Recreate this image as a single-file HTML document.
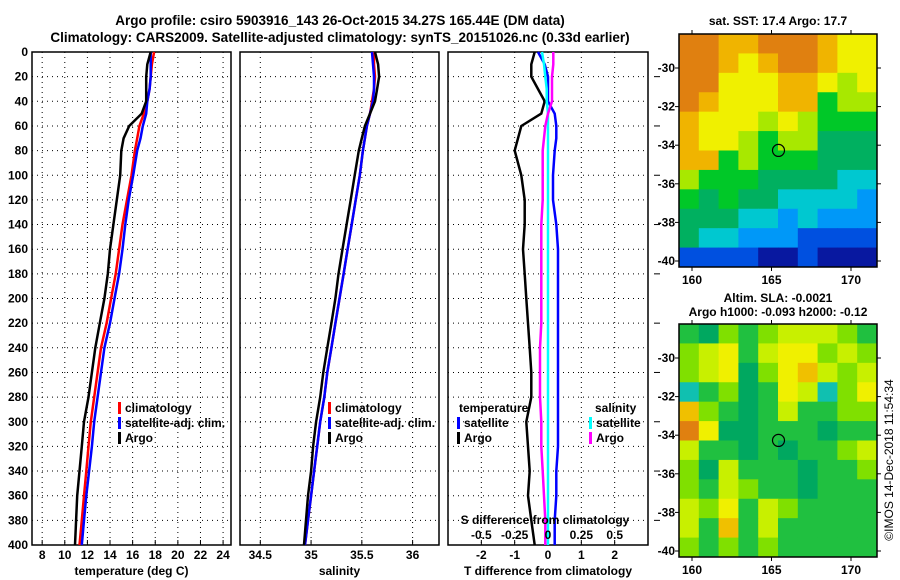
<!DOCTYPE html>
<html><head><meta charset="utf-8">
<style>
body{margin:0;background:#fff;}
svg{display:block;font-family:"Liberation Sans",Arial,sans-serif;font-weight:bold;}
</style></head>
<body>
<svg id="chart" width="900" height="580" viewBox="0 0 900 580">
<text x="340" y="25" text-anchor="middle" font-size="13.5">Argo profile: csiro 5903916_143 26-Oct-2015 34.27S 165.44E (DM data)</text>
<text x="340" y="42" text-anchor="middle" font-size="13.5">Climatology: CARS2009. Satellite-adjusted climatology: synTS_20151026.nc (0.33d earlier)</text>
<g id="g"></g>
<text x="893" y="460" text-anchor="middle" font-size="12" font-weight="normal" transform="rotate(-90 893 460)">©IMOS 14-Dec-2018 11:54:34</text>
</svg>
<script>
// ---- data ----
const depths = [0,10,20,30,40,50,60,70,80,100,120,140,160,180,200,220,240,260,280,300,320,340,360,380,400];
const tempClim = [17.9,17.7,17.6,17.5,17.3,17.0,16.6,16.4,16.2,15.9,15.5,15.1,14.8,14.5,14.1,13.7,13.2,12.9,12.6,12.3,12.1,11.9,11.7,11.5,11.3];
const tempSat  = [17.6,17.6,17.6,17.5,17.3,17.2,16.9,16.7,16.4,16.05,15.65,15.35,15.1,14.8,14.4,14.0,13.5,13.2,12.9,12.6,12.4,12.15,11.9,11.7,11.5];
const tempArgo = [17.6,17.3,17.2,17.2,17.2,16.8,15.7,15.2,15.0,14.9,14.6,14.3,14.0,13.8,13.5,13.1,12.7,12.4,12.1,11.7,11.5,11.3,11.1,11.0,10.9];
const salClim = [35.62,35.62,35.63,35.62,35.60,35.58,35.55,35.53,35.51,35.48,35.44,35.40,35.36,35.32,35.28,35.24,35.20,35.16,35.13,35.09,35.06,35.03,35.00,34.97,34.94];
const salSat  = [35.60,35.61,35.62,35.62,35.61,35.58,35.55,35.53,35.51,35.48,35.44,35.40,35.36,35.32,35.28,35.24,35.20,35.16,35.13,35.09,35.06,35.03,35.00,34.97,34.94];
const salArgo = [35.63,35.66,35.67,35.65,35.63,35.58,35.53,35.50,35.47,35.43,35.39,35.35,35.31,35.27,35.24,35.20,35.16,35.12,35.09,35.05,35.02,35.00,34.97,34.95,34.93];
const dTSat  = [-0.3,-0.1,0.0,0.0,0.0,0.2,0.25,0.25,0.2,0.15,0.15,0.25,0.3,0.3,0.3,0.3,0.3,0.3,0.3,0.3,0.3,0.25,0.25,0.2,0.2];
const dTArgo = [-0.4,-0.5,-0.5,-0.3,-0.1,-0.2,-0.8,-0.9,-1.0,-0.8,-0.7,-0.7,-0.75,-0.7,-0.65,-0.6,-0.55,-0.5,-0.5,-0.65,-0.6,-0.55,-0.6,-0.5,-0.4];
const dSSat  = [-0.045,-0.03,-0.02,-0.01,-0.01,0.0,0.0,0.0,0.0,0.0,0.0,0.0,0.0,0.0,0.0,0.0,0.0,0.0,0.0,0.0,0.0,0.0,0.0,0.0,0.0];
const dSArgo = [0.04,0.04,0.03,0.03,0.03,0.0,-0.02,-0.03,-0.04,-0.04,-0.04,-0.05,-0.05,-0.05,-0.05,-0.05,-0.06,-0.06,-0.06,-0.05,-0.05,-0.04,-0.03,-0.02,-0.02];
const depthTicks = [0,20,40,60,80,100,120,140,160,180,200,220,240,260,280,300,320,340,360,380,400];
const tTicks = [8,10,12,14,16,18,20,22,24];
const sTicks = [34.5,35,35.5,36];
const dTTicks = [-2,-1,0,1,2];
const dSTicks = [-0.5,-0.25,0,0.25,0.5];
const sstLevels = [
[9,9,8,8,9,9,9,8,7,7],[9,9,8,7,8,9,9,8,7,7],[9,9,7,7,7,8,8,7,6,7],[9,8,7,7,7,8,8,5,6,6],
[8,7,7,7,6,7,6,5,5,5],[8,7,7,6,5,6,6,4,4,4],[8,8,5,6,5,5,5,4,4,4],[6,5,5,5,4,4,4,4,3,3],
[5,4,5,4,4,3,3,3,3,2],[4,4,4,3,3,2,3,2,2,2],[4,3,3,2,2,2,1,1,1,1],[1,1,1,1,0,0,1,0,0,0]];
const slaLevels = [
[2,1,3,2,3,4,4,4,3,2],[3,4,5,2,4,5,5,3,4,3],[3,4,5,1,3,5,6,4,3,4],[0,2,3,1,2,5,4,0,3,5],
[6,3,2,1,2,4,2,2,3,3],[7,5,1,1,2,2,2,1,2,2],[4,2,2,1,2,1,2,2,3,4],[3,1,4,2,2,2,1,2,2,3],
[3,2,4,3,2,2,1,2,2,2],[4,3,5,2,4,3,2,2,2,2],[4,2,6,2,4,2,2,2,2,2],[3,2,3,2,3,2,2,2,2,2]];
const lonTicks = [160,165,170];
const latTicks = [-30,-32,-34,-36,-38,-40];
const argoLon = 165.44, argoLat = -34.27;

// ---- drawing ----
const NS="http://www.w3.org/2000/svg";
const G=document.getElementById('g');
function el(tag,attrs,parent){const e=document.createElementNS(NS,tag);for(const k in attrs)e.setAttribute(k,attrs[k]);(parent||G).appendChild(e);return e;}
function txt(x,y,s,anchor,size,parent){const t=el('text',{x:x,y:y,'text-anchor':anchor||'middle','font-size':size||12},parent);t.textContent=s;return t;}
const Y0=52,Y1=545;
const yD=d=>Y0+(d/400)*(Y1-Y0);
function lin(d0,d1,r0,r1){return v=>r0+(v-d0)/(d1-d0)*(r1-r0);}

function panel(name,x0,x1,xs,ticks,fmt,showDepth,xlabel){
  const g=el('g',{});
  
  
  const grid=el('g',{stroke:'#000','stroke-width':1,'stroke-dasharray':'1,4'},g);
  
  
  depthTicks.forEach(d=>{if(d>0&&d<400)el('line',{x1:x0,x2:x1,y1:yD(d),y2:yD(d)},grid);});
  ticks.forEach(v=>{el('line',{x1:xs(v),x2:xs(v),y1:Y0,y2:Y1},grid);});
  const fr=el('rect',{x:x0,y:Y0,width:x1-x0,height:Y1-Y0,fill:'none',stroke:'#000','stroke-width':1.5},g);
  
  
  const tl=el('g',{},g);
  
  
  ticks.forEach(v=>{el('line',{x1:xs(v),x2:xs(v),y1:Y1,y2:Y1-5,stroke:'#000'},g);txt(xs(v),559,fmt(v),'middle',12,tl);});
  if(showDepth){
    const dl=el('g',{},g);
    
    
    depthTicks.forEach(d=>txt(28,yD(d)+4,String(d),'end',12,dl));
  }
  if(xlabel){const t=txt((x0+x1)/2,575,xlabel,'middle',12,g);
    
    }
  return g;
}
function line(vals,xs,color,name,parent){
  let p='';vals.forEach((v,i)=>{p+=(i?'L':'M')+xs(v).toFixed(1)+','+yD(depths[i]).toFixed(1);});
  const l=el('path',{d:p,fill:'none',stroke:color,'stroke-width':2.5},parent);
  
  
}
function legend(x,y,items,parent){
  items.forEach((it,i)=>{
    if(it[1])el('rect',{x:x,y:y+i*15-10,width:3,height:12,fill:it[1]},parent);
    const t=txt(x+7,y+i*15,it[0],'start',12,parent);
    
    
  });
}
// Panel 1 temperature
const xT=lin(7.1,24.7,32,231);
const p1=panel('temperature',32,231,xT,tTicks,v=>String(v),true,'temperature (deg C)');
line(tempClim,xT,'#ff0000','temp-climatology-line',p1);
line(tempSat,xT,'#0000ff','temp-satellite-line',p1);
line(tempArgo,xT,'#000000','temp-argo-line',p1);
legend(118,412,[['climatology','#ff0000'],['satellite-adj. clim.','#0000ff'],['Argo','#000']],p1);
// Panel 2 salinity
const xS=lin(34.3,36.26,240,439);
const p2=panel('salinity',240,439,xS,sTicks,v=>String(v),false,'salinity');
line(salClim,xS,'#ff0000','sal-climatology-line',p2);
line(salSat,xS,'#0000ff','sal-satellite-line',p2);
line(salArgo,xS,'#000000','sal-argo-line',p2);
legend(328,412,[['climatology','#ff0000'],['satellite-adj. clim.','#0000ff'],['Argo','#000']],p2);
// Panel 3 differences
const xD=lin(-3,3,448,648);
const xDS=v=>xD(v*4);
const p3=panel('difference',448,648,xD,dTTicks,v=>String(v),false,'T difference from climatology');
depthTicks.forEach(d=>{if(d%40===20)el('line',{x1:654,x2:660,y1:yD(d),y2:yD(d),stroke:'#000'},p3);});
line(dTSat,xD,'#0000ff','dT-satellite-line',p3);
line(dTArgo,xD,'#000000','dT-argo-line',p3);
line(dSSat,xDS,'#00ffff','dS-satellite-line',p3);
line(dSArgo,xDS,'#ff00ff','dS-argo-line',p3);
legend(457,412,[['',null],['satellite','#0000ff'],['Argo','#000']],p3);
txt(459,412,'temperature','start',12,p3);
legend(589,412,[['',null],['satellite','#00ffff'],['Argo','#ff00ff']],p3);
txt(595,412,'salinity','start',12,p3);
const st=txt(545,524,'S difference from climatology','middle',12,p3);


dSTicks.forEach(v=>{const t=txt(xDS(v),539,String(v),'middle',12,p3);
  
  });

// Maps
const sstPal=['#0818a0','#0050e0','#0098f8','#00c8d0','#00b060','#00c828','#a8e800','#f0f000','#f0b400','#e08010'];
const slaPal=['#10c0b0','#00a860','#20c040','#80e000','#c8f000','#f0f000','#f0c000','#e08010'];
const xL=lin(160,170,692,851);
function map(name,top,levels,pal,latA){
  const g=el('g',{});
  
  
  const x0=679,x1=877,y0=top,y1=top+233;
  const rows=levels.length,cols=levels[0].length;
  const cw=(x1-x0)/cols,ch=(y1-y0)/rows;
  levels.forEach((row,r)=>row.forEach((v,c)=>{
    const cell=el('rect',{x:x0+c*cw,y:y0+r*ch,width:cw+0.5,height:ch+0.5,fill:pal[v]},g);
    
    
  }));
  el('rect',{x:x0,y:y0,width:x1-x0,height:y1-y0,fill:'none',stroke:'#000','stroke-width':1.5},g);
  const yLat=v=>latA+( -30 - v)*19.3;
  latTicks.forEach(v=>{const y=yLat(v);el('line',{x1:x0-4,x2:x0,y1:y,y2:y,stroke:'#000'},g);el('line',{x1:x1,x2:x1+4,y1:y,y2:y,stroke:'#000'},g);txt(675,y+4,String(v),'end',12,g);});
  lonTicks.forEach(v=>{el('line',{x1:xL(v),x2:xL(v),y1:y0-4,y2:y0,stroke:'#000'},g);el('line',{x1:xL(v),x2:xL(v),y1:y1,y2:y1+4,stroke:'#000'},g);txt(xL(v),y1+17,String(v),'middle',12,g);});
  const m=el('circle',{cx:xL(argoLon),cy:yLat(argoLat),r:6,fill:'none',stroke:'#000','stroke-width':1.2},g);
  
  
}
map('sst-map',34,sstLevels,sstPal,68);
map('sla-map',324,slaLevels,slaPal,358);
const t1=txt(778,25,'sat. SST: 17.4 Argo: 17.7','middle',12);


const t2=txt(778,302,'Altim. SLA: -0.0021','middle',12);


const t3=txt(778,316,'Argo h1000: -0.093 h2000: -0.12','middle',12);


</script>
</body></html>
